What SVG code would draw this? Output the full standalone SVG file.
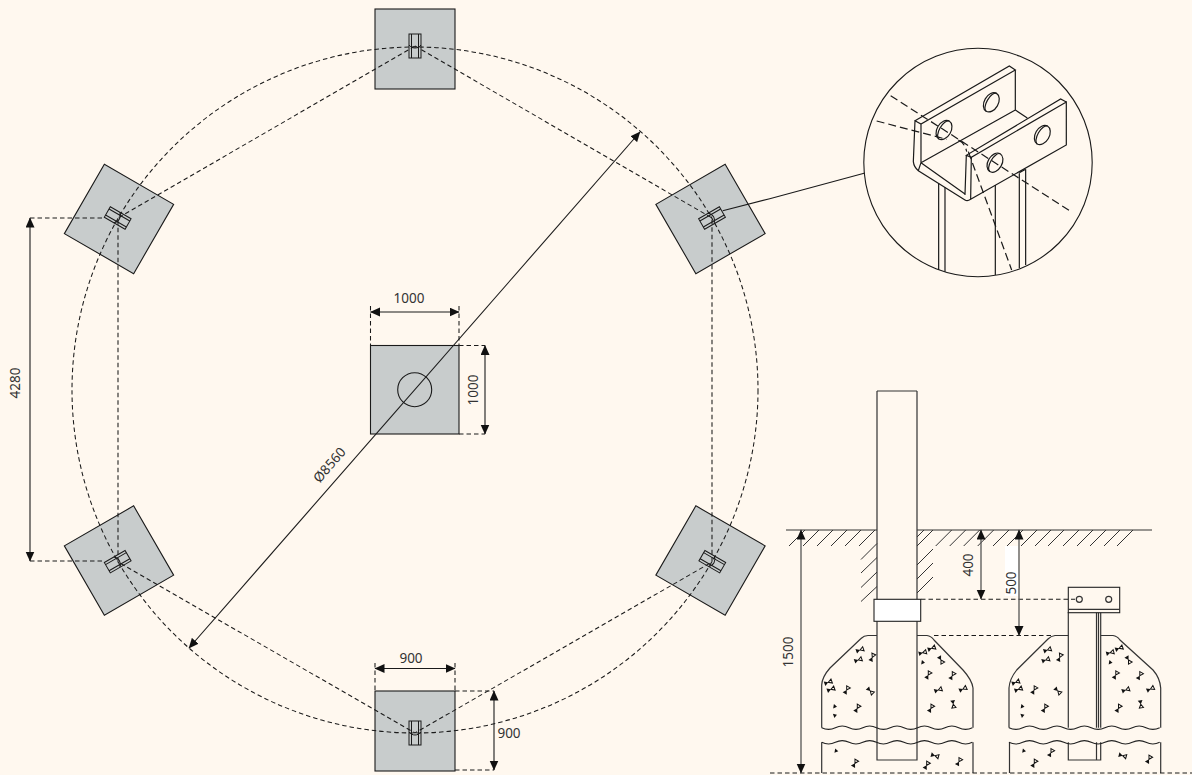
<svg xmlns="http://www.w3.org/2000/svg" xmlns:xlink="http://www.w3.org/1999/xlink" width="1192" height="775" viewBox="0 0 1192 775">
<style>
.ln{fill:none;stroke:#1a1a1a;stroke-width:1.1}
.dsh{fill:none;stroke:#1a1a1a;stroke-width:1.05;stroke-dasharray:4.5 3}
.dim{fill:none;stroke:#1a1a1a;stroke-width:1.1;marker-start:url(#a);marker-end:url(#a)}
.dimg{fill:none;stroke:#555;stroke-width:1.3;marker-start:url(#a);marker-end:url(#a)}
.pad{fill:#c8cccc;stroke:#1a1a1a;stroke-width:1.1}
.br{fill:none;stroke:#1a1a1a;stroke-width:1}
.sec{fill:none;stroke:#333;stroke-width:1.2}
.hat{fill:none;stroke:#333;stroke-width:1}
.zm{fill:none;stroke:#1a1a1a;stroke-width:3.6}
.zd{fill:none;stroke:#1a1a1a;stroke-width:3.6;stroke-dasharray:24 12}
text{font-family:"Noto Sans","Open Sans","Liberation Sans",sans-serif;font-size:13.5px;fill:#333;text-anchor:middle}
</style>
<defs>
<marker id="a" markerUnits="userSpaceOnUse" markerWidth="11" markerHeight="10" refX="9.5" refY="4.5" orient="auto-start-reverse"><path d="M0 0L10 4.5L0 9Z" fill="#111"/></marker>
<g id="bracket"><rect x="-12" y="-6" width="24" height="12"/><path d="M-12-3.5H12M-12 3.5H12M-1 -6C3-3 3 3-1 6"/></g>
<g id="b"><path d="M0 0L-4-2.4V2.4Z" fill="#111"/><path d="M0 0L3.6-2.1V2.1Z" fill="none" stroke="#111"/></g>
<path id="s" d="M1 0L-2.5-2.2V2.2Z" fill="#111"/>
<path id="wave" d="M0 0q6.85 3.4 13.7 0t13.7 0t13.7 0t13.7 0t13.7 0t13.7 0t13.7 0t13.7 0t13.7 0t13.7 0t13.7 0" fill="none" stroke="#222" stroke-width="1.1"/>
<g id="speck">
<use xlink:href="#b" transform="translate(860 650) rotate(-20)"/>
<use xlink:href="#b" transform="translate(858.3 660) rotate(-20)"/>
<use xlink:href="#b" transform="translate(872.3 657.3) rotate(-65)"/>
<use xlink:href="#b" transform="translate(828.3 682.3) rotate(-20)"/>
<use xlink:href="#b" transform="translate(831 689.3) rotate(-20)"/>
<use xlink:href="#b" transform="translate(846.7 690) rotate(-60)"/>
<use xlink:href="#b" transform="translate(870.3 691) rotate(45)"/>
<use xlink:href="#s" transform="translate(836 706.7) rotate(10)"/>
<use xlink:href="#s" transform="translate(836 715) rotate(-20)"/>
<use xlink:href="#b" transform="translate(857.3 708.3) rotate(-60)"/>
<use xlink:href="#b" transform="translate(922.7 652.7) rotate(-15)"/>
<use xlink:href="#b" transform="translate(931.7 648.3) rotate(-20)"/>
<use xlink:href="#b" transform="translate(941 660) rotate(60)"/>
<use xlink:href="#s" transform="translate(924 662.7) rotate(10)"/>
<use xlink:href="#b" transform="translate(928.3 675) rotate(-60)"/>
<use xlink:href="#b" transform="translate(952.3 675.7) rotate(-60)"/>
<use xlink:href="#b" transform="translate(938.3 690) rotate(-20)"/>
<use xlink:href="#b" transform="translate(963 689) rotate(-25)"/>
<use xlink:href="#b" transform="translate(931 708.3) rotate(-60)"/>
<use xlink:href="#b" transform="translate(953.3 704.3) rotate(80)"/>
</g>
</defs>
<rect width="1192" height="775" fill="#fff8ef"/>
<g id="pads">
<g id="pad-top"><rect class="pad" x="375" y="9" width="80" height="80"/></g>
<g id="pad-upper-right"><rect class="pad" x="-40" y="-40" width="80" height="80" transform="translate(710.5 219) rotate(-30)"/></g>
<g id="pad-upper-left"><rect class="pad" x="-40" y="-40" width="80" height="80" transform="translate(119 219) rotate(30)"/></g>
<g id="pad-lower-left"><rect class="pad" x="-40" y="-40" width="80" height="80" transform="translate(119 560.5) rotate(-30)"/></g>
<g id="pad-lower-right"><rect class="pad" x="-40" y="-40" width="80" height="80" transform="translate(710.5 560.5) rotate(30)"/></g>
<g id="pad-bottom"><rect class="pad" x="375" y="691" width="80" height="80"/></g>
<g id="pad-centre"><rect class="pad" x="370.5" y="345.5" width="88.5" height="88.5"/><circle class="ln" cx="414.7" cy="389.7" r="17"/></g>
</g>
<g id="connectors">
<circle class="dsh" cx="415" cy="390" r="343"/>
<path class="dsh" d="M415 46L712 218V562L415 733L118 562V218Z"/>
<path class="ln" d="M722.7 210.7L769.7 198.7L865 173"/>
<path class="dim" d="M640 132L189 648"/>
<path class="dim" d="M30 218V561"/>
<path class="dsh" d="M30 218H105M30 561H105"/>
<path class="dim" d="M370.5 312H459"/>
<path class="dsh" d="M370.5 306V345M459 306V345"/>
<path class="dim" d="M485 345.5V434"/>
<path class="dsh" d="M459 345.5H485M459 434H485"/>
<path class="dim" d="M375 668.5H455"/>
<path class="dsh" d="M375 663V691M455 663V691"/>
<path class="dim" d="M494 691V770"/>
<path class="dsh" d="M455 691H494M455 770H494"/>
</g>
<g id="brackets" class="br">
<use xlink:href="#bracket" transform="translate(415 46) rotate(90)"/>
<use xlink:href="#bracket" transform="translate(712 218) rotate(-30)"/>
<use xlink:href="#bracket" transform="translate(117.7 218) rotate(30)"/>
<use xlink:href="#bracket" transform="translate(117.7 561.7) rotate(-30)"/>
<use xlink:href="#bracket" transform="translate(712.3 561.7) rotate(30)"/>
<use xlink:href="#bracket" transform="translate(415 733) rotate(90)"/>
</g>
<g id="detail">
<circle class="ln" cx="978" cy="162.5" r="114.2"/>
<g transform="translate(850 50) scale(.3333)">
<path class="zm" d="M195 212L478 48L496 60L213 222ZM195 212L190 335Q192 352 205 362L345 450Q352 455 362 448L649 285V156L364 322L349 316L632 147L649 156M496 60V180L532 204M213 222V338L496 180M213 338L345 432M345 435L349 316M364 322L362 448M205 362L213 338"/>
<path class="zm" d="M266 400V660M285 412V665M436 405V675M508 370V655M527 358V645M508 368L527 358"/>
<g class="zm"><ellipse cx="282" cy="240" rx="31" ry="21" transform="rotate(-60 282 240)"/><ellipse cx="424" cy="157" rx="31" ry="21" transform="rotate(-60 424 157)"/><ellipse cx="435" cy="338" rx="31" ry="21" transform="rotate(-60 435 338)"/><ellipse cx="577" cy="255" rx="31" ry="21" transform="rotate(-60 577 255)"/>
<path d="M266.500 266.800A31 14 -60 0 1 297.500 213.200M408.500 183.800A31 14 -60 0 1 439.500 130.200M419.500 364.800A31 14 -60 0 1 450.500 311.200M561.500 281.800A31 14 -60 0 1 592.500 228.200"/></g>
<path class="zd" d="M122 137L660 483M80 213L290 268M355 305L485 660M325 270Q345 280 350 305"/>
</g>
</g>
<g id="section-post">
<path class="sec" d="M786 530H877M917 530H1152"/>
<path class="hat" d="M789 546L805 530M803 546L819 530M817 546L833 530M831 546L847 530M845 546L861 530M859 546L875 530M861 559.500L877 543.500M861 573L877 557.500M861 587.500L877 572M861 601.500L877 586.500M917 537L924 530M917 546L933 530M935.700 546L951.700 530M949.700 546L965.700 530M963.700 546L979.700 530M977.700 546L993.700 530M917 565L933 549M917 579L933 563M917 593L933 577M993 546L1009 530M1007 546L1023 530M1021 546L1037 530M1035 546L1051 530M1048 546L1064 530M1063 546L1079 530M1077 546L1093 530M1090 546L1106 530M1104 546L1120 530M1117 546L1133 530"/>
<path class="sec" d="M877 391H917M877 391V760H917V391"/>
<path class="sec" d="M877 635.500H868Q864 635.500 861 638.500L830 668Q822 677 821.700 685V727.700M917 635.500H927Q931 636 934 640L963 670Q972 680 973 688V727.700"/>
<path class="sec" d="M821.700 742.300V773M973 742.300V773"/>
<use xlink:href="#wave" transform="translate(821.700 727.700)"/>
<use xlink:href="#wave" transform="translate(821.700 742.300)"/>
<rect x="874" y="599.300" width="46.700" height="22" fill="#fff" stroke="#222" stroke-width="1.1"/>
<use xlink:href="#speck"/>
<use xlink:href="#s" transform="translate(837.300 751) rotate(10)"/>
<use xlink:href="#b" transform="translate(855 763.300) rotate(-60)"/>
<use xlink:href="#b" transform="translate(935 755.700) rotate(15)"/>
<use xlink:href="#b" transform="translate(926.700 765.300) rotate(-60)"/>
<use xlink:href="#b" transform="translate(959 761.700) rotate(-60)"/>
</g>
<g id="section-bracket">
<path class="sec" d="M1068.300 612V727.700M1096.500 612V727.700M1098.500 612V727.700M1100.700 612V727.700"/>
<rect x="1068.300" y="587.300" width="51.400" height="25.400" fill="#fff8ef" stroke="#222" stroke-width="1.1"/>
<path class="sec" d="M1068.300 609.300H1119.700"/>
<circle class="sec" cx="1079.300" cy="599.300" r="3"/>
<circle class="sec" cx="1108.700" cy="599.300" r="3"/>
<path class="sec" d="M1068.300 635.500H1055Q1051 636 1048 639L1016.700 670Q1009.500 679 1009 688V727.700M1100.700 635.500H1113Q1117 636 1120 640L1153 670Q1160 678 1160.700 688V727.700"/>
<path class="sec" d="M1009.500 742.300V773M1160.700 742.300V773M1068.300 742.300V760H1100.700V742.300M1096.500 742.300V760"/>
<use xlink:href="#wave" transform="translate(1009 727.700)"/>
<use xlink:href="#wave" transform="translate(1009 742.300)"/>
<use xlink:href="#speck" transform="translate(187.500 0)"/>
<use xlink:href="#s" transform="translate(1025 751) rotate(10)"/>
<use xlink:href="#b" transform="translate(1051 752.700) rotate(-60)"/>
<use xlink:href="#b" transform="translate(1034.300 763.300) rotate(-60)"/>
<use xlink:href="#b" transform="translate(1122.700 755.700) rotate(15)"/>
<use xlink:href="#b" transform="translate(1149 759.300) rotate(-60)"/>
</g>
<g id="section-dims">
<rect x="1005" y="546" width="13" height="50" fill="#fff"/>
<path class="dsh" d="M921 599.300H1075M934 635.500H1052M770 773H1192"/>
<path class="dimg" d="M801 530V773"/>
<path class="dimg" d="M981 530V599"/>
<path class="dimg" d="M1019 530V635.500"/>
</g>
<g id="labels">
<text x="409" y="303">1000</text>
<text transform="translate(478 390) rotate(-90)">1000</text>
<text x="411" y="663">900</text>
<text x="509" y="738">900</text>
<text transform="translate(20 383) rotate(-90)">4280</text>
<text transform="translate(333 468) rotate(-49)">Ø8560</text>
<text transform="translate(793 652) rotate(-90)">1500</text>
<text transform="translate(973 565) rotate(-90)">400</text>
<text transform="translate(1016 583) rotate(-90)">500</text>
</g>
</svg>
